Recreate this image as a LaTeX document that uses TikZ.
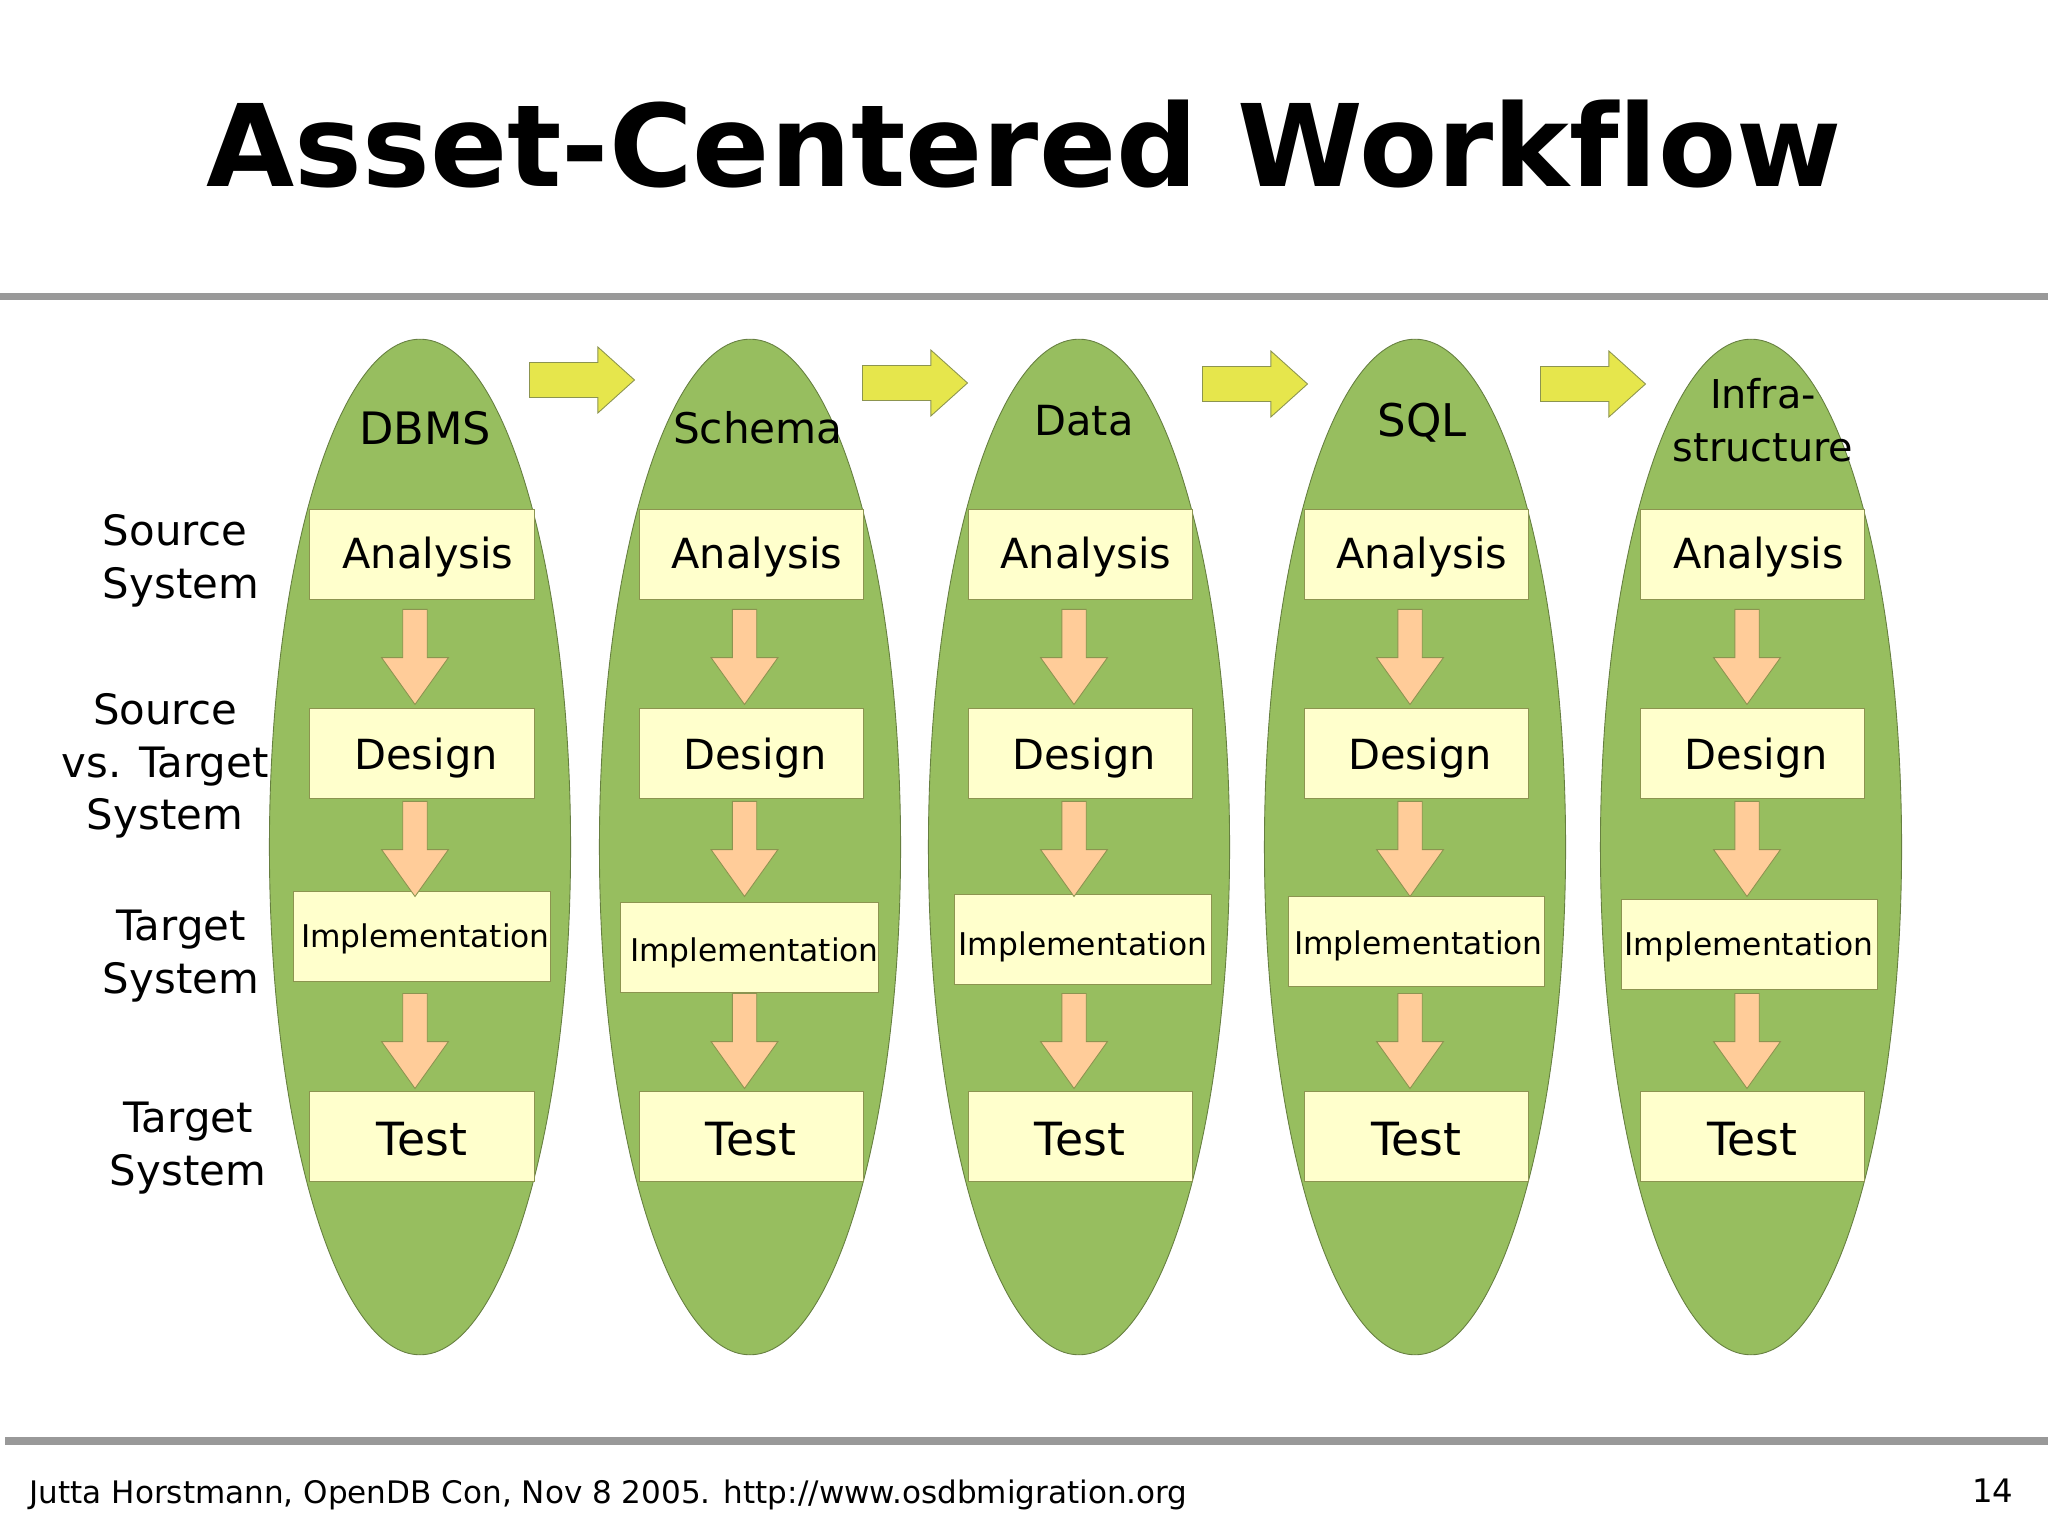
\documentclass[tikz,border=0pt]{standalone}
\usepackage{fontspec}
\setmainfont{DejaVu Sans}[Ligatures=NoCommon]
\usepackage{tikz}
\usetikzlibrary{positioning}
\usetikzlibrary{shapes.geometric}
\usetikzlibrary{shapes.arrows}
\definecolor{leaf}{HTML}{97BE5F}
\definecolor{leafline}{HTML}{667F40}
\definecolor{cream}{HTML}{FFFFCC}
\definecolor{creamline}{HTML}{8C9450}
\definecolor{peach}{HTML}{FFCC99}
\definecolor{lemon}{HTML}{E6E64C}
\definecolor{rulegray}{HTML}{999999}

\begin{document}
\begin{tikzpicture}[
    x=0.01cm,y=-0.01cm,
    bigtext/.style={font=\fontsize{11.8}{14.9}\selectfont},
    lane/.style={draw=leafline,fill=leaf,ellipse,line width=0.25pt,minimum width=3.01cm,minimum height=10.15cm,inner sep=0pt},
    stage/.style={draw=creamline,fill=cream,line width=0.25pt,minimum width=2.24cm,minimum height=0.9cm,inner sep=0pt,bigtext,text height=0.38cm,text depth=0.10cm},
    designbox/.style={stage,text height=0.43cm},
    testbox/.style={stage,font=\fontsize{13}{15}\selectfont,text height=0.47cm},
    impl/.style={stage,minimum width=2.56cm,font=\fontsize{8.9}{11}\selectfont,text height=0.30cm,text depth=0.08cm},
    flow/.style={draw=creamline,fill=peach,line width=0.25pt,single arrow,rotate=-90,anchor=tail,minimum height=0.95cm,minimum width=0.66cm,inner xsep=0pt,inner ysep=0.1175cm,single arrow head extend=0.2125cm,single arrow tip angle=71},
    next/.style={draw=creamline,fill=lemon,line width=0.25pt,single arrow,anchor=tail,minimum height=1.05cm,minimum width=0.65cm,inner xsep=0pt,inner ysep=0.17cm,single arrow head extend=0.155cm,single arrow tip angle=84},
    side/.style={font=\fontsize{11.9}{14.9}\selectfont,align=center,inner sep=0pt},
    head/.style={bigtext,align=center,inner sep=0pt}
    ]

    \useasboundingbox (0,0) rectangle (2048,1537);

    \node[font=\fontsize{32.4}{36}\selectfont\bfseries,anchor=base,inner sep=0pt] (title) at (1024,187) {Asset-Centered Workflow};
    \fill[rulegray] (0,293) rectangle (2048,300);
    \fill[rulegray] (5,1437) rectangle (2048,1445);

    \node[lane] (dbms) at (420,847) {};
    \node[lane] (schema) at (750,847) {};
    \node[lane] (data) at (1079,847) {};
    \node[lane] (sql) at (1415,847) {};
    \node[lane] (infra) at (1751,847) {};

    \node[head,font=\fontsize{12.7}{15}\selectfont] (dbmshead) at (425,428) {DBMS};
    \node[head,font=\fontsize{12}{15}\selectfont] (schemahead) at (758,428) {Schema};
    \node[head] (datahead) at (1084,421) {Data};
    \node[head,font=\fontsize{12.8}{15}\selectfont] (sqlhead) at (1422,423) {SQL};
    \node[head,font=\fontsize{11.3}{14.9}\selectfont] (infrahead) at (1763,420) {Infra-\\structure};

    \node[next] (step1) at (529,380) {};
    \node[next] (step2) at (862,383) {};
    \node[next] (step3) at (1202,384) {};
    \node[next] (step4) at (1540,384) {};

    \node[side,align=left] (sidea) at (181,561) {Source\\System};
    \node[side] (sideb) at (165,766) {Source\\vs. Target\\System};
    \node[side] (sidec) at (181,956) {Target\\System};
    \node[side] (sided) at (188,1148) {Target\\System};

    \node[stage] (analysis1) at (422,554) {\hspace*{0.12cm}Analysis};
    \node[designbox, below=1.08cm of analysis1] (design1) {\hspace*{0.08cm}Design};
    \node[impl] (impl1) at (422,936) {\hspace*{0.07cm}Implementation};
    \node[testbox, below=2.927cm of design1] (test1) {Test};

    \node[stage] (analysis2) at (751,554) {\hspace*{0.12cm}Analysis};
    \node[designbox, below=1.08cm of analysis2] (design2) {\hspace*{0.08cm}Design};
    \node[impl,text height=0.378cm] (impl2) at (749.5,947) {\hspace*{0.10cm}Implementation};
    \node[testbox, below=2.927cm of design2] (test2) {Test};

    \node[stage] (analysis3) at (1080,554) {\hspace*{0.12cm}Analysis};
    \node[designbox, below=1.08cm of analysis3] (design3) {\hspace*{0.08cm}Design};
    \node[impl,text height=0.404cm] (impl3) at (1083,939) {Implementation};
    \node[testbox, below=2.927cm of design3] (test3) {Test};

    \node[stage] (analysis4) at (1416,554) {\hspace*{0.12cm}Analysis};
    \node[designbox, below=1.08cm of analysis4] (design4) {\hspace*{0.08cm}Design};
    \node[impl,text height=0.34cm] (impl4) at (1416,941.5) {\hspace*{0.05cm}Implementation};
    \node[testbox, below=2.927cm of design4] (test4) {Test};

    \node[stage] (analysis5) at (1752.5,554) {\hspace*{0.12cm}Analysis};
    \node[designbox, below=1.08cm of analysis5] (design5) {\hspace*{0.08cm}Design};
    \node[impl] (impl5) at (1749,944) {Implementation};
    \node[testbox, below=2.927cm of design5] (test5) {Test};

    \node[flow] (flow1a) at (415,609) {};
    \node[flow] (flow1b) at (415,801) {};
    \node[flow] (flow1c) at (415,993) {};
    \node[flow] (flow2a) at (744.5,609) {};
    \node[flow] (flow2b) at (744.5,801) {};
    \node[flow] (flow2c) at (744.5,993) {};
    \node[flow] (flow3a) at (1074,609) {};
    \node[flow] (flow3b) at (1074,801) {};
    \node[flow] (flow3c) at (1074,993) {};
    \node[flow] (flow4a) at (1410,609) {};
    \node[flow] (flow4b) at (1410,801) {};
    \node[flow] (flow4c) at (1410,993) {};
    \node[flow] (flow5a) at (1747,609) {};
    \node[flow] (flow5b) at (1747,801) {};
    \node[flow] (flow5c) at (1747,993) {};

    \node[font=\fontsize{8.83}{10}\selectfont,anchor=base west,inner sep=0pt] (footer) at (29,1503) {Jutta Horstmann, OpenDB Con, Nov 8 2005. http://www.osdbmigration.org};
    \node[font=\fontsize{9.2}{10}\selectfont,anchor=base east,inner sep=0pt] (pagenum) at (2014,1502) {14};

\end{tikzpicture}
\end{document}
